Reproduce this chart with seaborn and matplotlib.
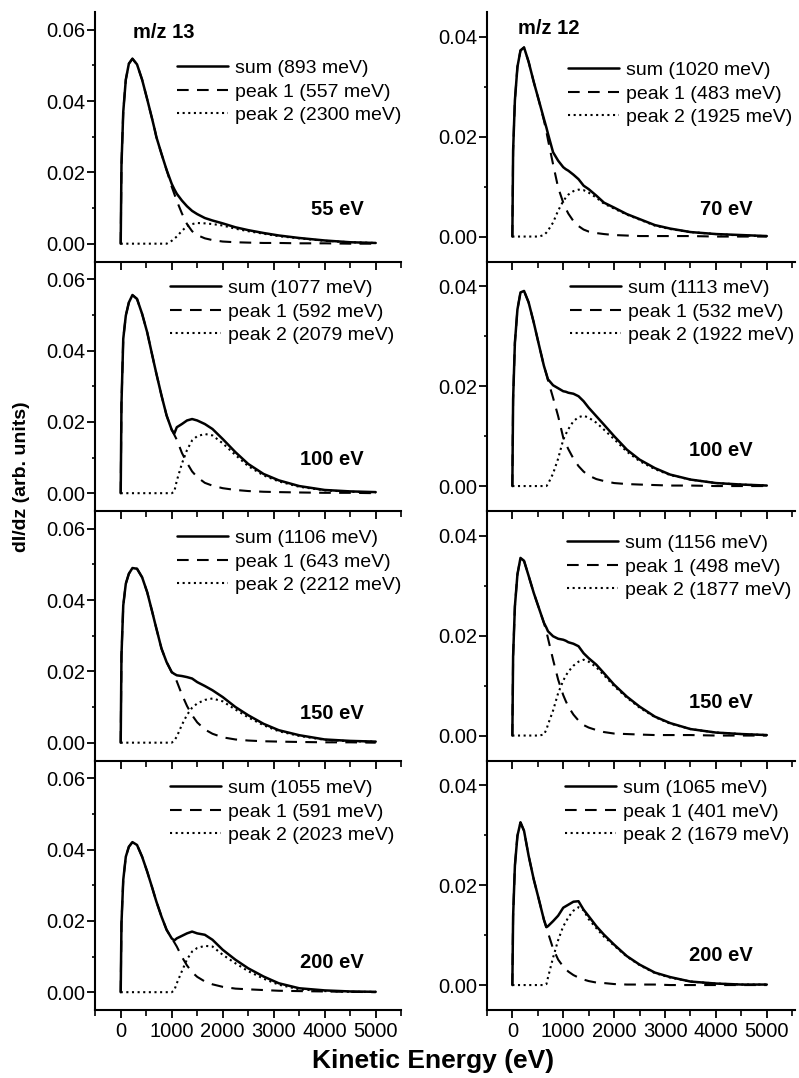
import numpy as np
import matplotlib
matplotlib.use("Agg")
import matplotlib.pyplot as plt
from matplotlib.ticker import MultipleLocator, FormatStrFormatter
import seaborn as sns

sns.set_style("ticks")
plt.rcParams['font.family'] = ['Liberation Sans', 'DejaVu Sans']
plt.rcParams['text.color'] = 'black'
plt.rcParams['axes.labelcolor'] = 'black'
plt.rcParams['axes.edgecolor'] = 'black'
plt.rcParams['xtick.color'] = 'black'
plt.rcParams['ytick.color'] = 'black'

# ---------------- data ----------------
energy = [0, 15, 50, 100, 160, 230, 320, 420, 520, 620, 670, 700, 800, 900, 1000, 1050,
          1100, 1200, 1300, 1400, 1500, 1650, 1800, 2000, 2250, 2500, 2800, 3100, 3500,
          4000, 4500, 5000]

# m/z 13 column
l1_sum = [0, 0.022, 0.037, 0.046, 0.0505, 0.0519, 0.0503, 0.046, 0.0405, 0.0348, 0.0318, 0.0299,
          0.0252, 0.0207, 0.0168, 0.0153, 0.014, 0.0121, 0.0105, 0.0092, 0.0083, 0.0072, 0.0065,
          0.0057, 0.0046, 0.0038, 0.003, 0.0023, 0.0016, 0.0009, 0.0004, 0.0002]
l1_p1 = [0, 0.022, 0.037, 0.046, 0.0505, 0.0519, 0.0503, 0.046, 0.0405, 0.0348, 0.0318, 0.0299,
         0.0252, 0.0207, 0.016, 0.014, 0.012, 0.0085, 0.0055, 0.0035, 0.0024, 0.0015, 0.001,
         0.0006, 0.0004, 0.0003, 0.0002, 0.0002, 0.0001, 0.0001, 0, 0]
l1_p2 = [0, 0, 0, 0, 0, 0, 0, 0, 0, 0, 0, 0, 0, 0, 0.0008, 0.0014, 0.002, 0.0036, 0.0049, 0.0055,
         0.0058, 0.0057, 0.0055, 0.0051, 0.0042, 0.0035, 0.0028, 0.0021, 0.0015, 0.0008, 0.0004,
         0.0002]

l2_sum = [0, 0.025, 0.0433, 0.0498, 0.0535, 0.0556, 0.0545, 0.0503, 0.0451, 0.0386, 0.0354,
          0.0335, 0.0274, 0.0218, 0.0178, 0.0167, 0.0185, 0.0194, 0.0204, 0.0208, 0.0204, 0.0194,
          0.018, 0.0152, 0.0115, 0.0082, 0.0054, 0.0036, 0.002, 0.0009, 0.0005, 0.0003]
l2_p1 = [0, 0.025, 0.0433, 0.0498, 0.0535, 0.0556, 0.0545, 0.0503, 0.0451, 0.0386, 0.0354,
         0.0335, 0.0274, 0.0218, 0.0178, 0.0164, 0.015, 0.0113, 0.0085, 0.0061, 0.0045, 0.0029,
         0.0021, 0.0014, 0.0009, 0.0006, 0.0004, 0.0003, 0.0002, 0.0001, 0.0001, 0]
l2_p2 = [0, 0, 0, 0, 0, 0, 0, 0, 0, 0, 0, 0, 0, 0, 0, 0.0004, 0.0035, 0.0083, 0.0121, 0.0148,
         0.016, 0.0166, 0.0162, 0.014, 0.0107, 0.0076, 0.005, 0.0033, 0.0018, 0.0008, 0.0004,
         0.0002]

l3_sum = [0, 0.0245, 0.0385, 0.0446, 0.0474, 0.049, 0.0488, 0.0464, 0.0422, 0.0366, 0.0337,
          0.032, 0.0264, 0.0226, 0.0198, 0.0193, 0.0189, 0.0187, 0.0184, 0.018, 0.017, 0.0159,
          0.0147, 0.0128, 0.01, 0.0077, 0.0053, 0.0035, 0.0021, 0.0009, 0.0005, 0.0003]
l3_p1 = [0, 0.0245, 0.0385, 0.0446, 0.0474, 0.049, 0.0488, 0.0464, 0.0422, 0.0366, 0.0337,
         0.032, 0.0264, 0.0226, 0.0198, 0.0187, 0.0172, 0.0135, 0.0103, 0.0077, 0.0057, 0.0037,
         0.0025, 0.0015, 0.0009, 0.0006, 0.0004, 0.0003, 0.0002, 0.0001, 0.0001, 0]
l3_p2 = [0, 0, 0, 0, 0, 0, 0, 0, 0, 0, 0, 0, 0, 0, 0, 0.0006, 0.0017, 0.005, 0.0078, 0.0098,
         0.011, 0.012, 0.0124, 0.0116, 0.0093, 0.0071, 0.0049, 0.0032, 0.0019, 0.0008, 0.0004,
         0.0003]

l4_sum = [0, 0.0193, 0.0315, 0.038, 0.0408, 0.0421, 0.0413, 0.038, 0.0338, 0.0292, 0.0268,
          0.0254, 0.0212, 0.0175, 0.0151, 0.0145, 0.0151, 0.0158, 0.0165, 0.017, 0.0165, 0.0161,
          0.0147, 0.0119, 0.0091, 0.0067, 0.0044, 0.0025, 0.0011, 0.0005, 0.0002, 0.0001]
l4_p1 = [0, 0.0193, 0.0315, 0.038, 0.0408, 0.0421, 0.0413, 0.038, 0.0338, 0.0292, 0.0268,
         0.0254, 0.0212, 0.0175, 0.0151, 0.014, 0.0128, 0.0099, 0.0075, 0.0056, 0.0043, 0.003,
         0.0022, 0.0015, 0.001, 0.0008, 0.0006, 0.0004, 0.0003, 0.0002, 0.0001, 0]
l4_p2 = [0, 0, 0, 0, 0, 0, 0, 0, 0, 0, 0, 0, 0, 0, 0, 0.0005, 0.0025, 0.0059, 0.0092, 0.0114,
         0.0124, 0.013, 0.0128, 0.0105, 0.0081, 0.0059, 0.0038, 0.0021, 0.0008, 0.0003, 0.0001,
         0.0001]

# m/z 12 column
r1_sum = [0, 0.0172, 0.0273, 0.034, 0.0373, 0.0379, 0.035, 0.031, 0.0273, 0.0236, 0.0218,
          0.0206, 0.0169, 0.0152, 0.0139, 0.0135, 0.0132, 0.0124, 0.0115, 0.0102, 0.0095, 0.0082,
          0.0068, 0.0058, 0.0045, 0.0035, 0.0023, 0.0016, 0.0009, 0.0005, 0.0003, 0.0001]
r1_p1 = [0, 0.0172, 0.0273, 0.034, 0.0373, 0.0379, 0.035, 0.031, 0.0273, 0.0233, 0.021, 0.0194,
         0.0145, 0.0098, 0.0068, 0.0056, 0.0046, 0.0031, 0.0021, 0.0014, 0.001, 0.0007, 0.0005,
         0.0003, 0.0002, 0.0001, 0.0001, 0.0001, 0.0001, 0, 0, 0]
r1_p2 = [0, 0, 0, 0, 0, 0, 0, 0, 0, 0.0003, 0.0008, 0.0012, 0.0028, 0.0052, 0.0071, 0.0078,
         0.0084, 0.0091, 0.0094, 0.0093, 0.0088, 0.0078, 0.0066, 0.0056, 0.0044, 0.0034, 0.0022,
         0.0015, 0.0009, 0.0005, 0.0002, 0.0001]

r2_sum = [0, 0.0174, 0.0287, 0.0354, 0.0388, 0.0391, 0.0368, 0.0328, 0.0284, 0.0241, 0.0224,
          0.0214, 0.0202, 0.0196, 0.019, 0.0189, 0.0187, 0.0185, 0.018, 0.017, 0.0157, 0.014,
          0.0123, 0.01, 0.0073, 0.0053, 0.0036, 0.0023, 0.0013, 0.0006, 0.0003, 0.0001]
r2_p1 = [0, 0.0174, 0.0287, 0.0354, 0.0388, 0.0391, 0.0368, 0.0328, 0.0284, 0.0241, 0.0224,
         0.0212, 0.0177, 0.014, 0.0097, 0.0085, 0.0074, 0.0055, 0.004, 0.0029, 0.0021, 0.0014,
         0.001, 0.0006, 0.0004, 0.0003, 0.0002, 0.0001, 0.0001, 0, 0, 0]
r2_p2 = [0, 0, 0, 0, 0, 0, 0, 0, 0, 0, 0, 0.0004, 0.0025, 0.0055, 0.0093, 0.0104, 0.0114,
         0.013, 0.0138, 0.0141, 0.0137, 0.0127, 0.0113, 0.0094, 0.0069, 0.005, 0.0034, 0.0022,
         0.0013, 0.0006, 0.0003, 0.0001]

r3_sum = [0, 0.0159, 0.0259, 0.0323, 0.0356, 0.035, 0.032, 0.0286, 0.0256, 0.0226, 0.0216,
          0.0209, 0.0199, 0.0194, 0.0192, 0.019, 0.0187, 0.0184, 0.0179, 0.0165, 0.0155, 0.0142,
          0.0125, 0.0102, 0.0078, 0.0058, 0.0038, 0.0025, 0.0013, 0.0006, 0.0003, 0.0001]
r3_p1 = [0, 0.0159, 0.0259, 0.0323, 0.0356, 0.035, 0.032, 0.0286, 0.0256, 0.0226, 0.0208,
         0.0195, 0.0152, 0.0112, 0.0081, 0.0069, 0.0058, 0.0042, 0.003, 0.0021, 0.0016, 0.0011,
         0.0007, 0.0004, 0.0003, 0.0002, 0.0001, 0.0001, 0.0001, 0, 0, 0]
r3_p2 = [0, 0, 0, 0, 0, 0, 0, 0, 0, 0.0002, 0.0012, 0.0022, 0.005, 0.0085, 0.011, 0.012, 0.0128,
         0.014, 0.0148, 0.0152, 0.0148, 0.0137, 0.0121, 0.0099, 0.0076, 0.0056, 0.0037, 0.0024,
         0.0013, 0.0006, 0.0003, 0.0001]

r4_sum = [0, 0.0138, 0.0239, 0.0299, 0.0326, 0.0309, 0.0259, 0.0212, 0.0172, 0.0131, 0.0116,
          0.0118, 0.0128, 0.0139, 0.0155, 0.0158, 0.0161, 0.0167, 0.0168, 0.0151, 0.0138, 0.0118,
          0.0101, 0.0081, 0.0058, 0.0041, 0.0025, 0.0016, 0.0007, 0.0003, 0.0001, 0.0001]
r4_p1 = [0, 0.0138, 0.0239, 0.0299, 0.0326, 0.0309, 0.0259, 0.0212, 0.0172, 0.0131, 0.0114,
         0.0105, 0.0073, 0.0051, 0.0037, 0.0032, 0.0027, 0.002, 0.0015, 0.0011, 0.0008, 0.0005,
         0.0004, 0.0002, 0.0001, 0.0001, 0.0001, 0, 0, 0, 0, 0]
r4_p2 = [0, 0, 0, 0, 0, 0, 0, 0, 0, 0, 0.0002, 0.0015, 0.0055, 0.009, 0.0118, 0.0126, 0.0136,
         0.0149, 0.0156, 0.015, 0.0132, 0.0114, 0.0097, 0.0079, 0.0057, 0.004, 0.0024, 0.0015,
         0.0007, 0.0003, 0.0001, 0.0001]

left_sum_mev = [893, 1077, 1106, 1055]
left_p1_mev = [557, 592, 643, 591]
left_p2_mev = [2300, 2079, 2212, 2023]
right_sum_mev = [1020, 1113, 1156, 1065]
right_p1_mev = [483, 532, 498, 401]
right_p2_mev = [1925, 1922, 1877, 1679]
left_energies = ["55 eV", "100 eV", "150 eV", "200 eV"]
right_energies = ["70 eV", "100 eV", "150 eV", "200 eV"]
column_titles = ["m/z 13", "m/z 12"]

left_curves = [(l1_sum, l1_p1, l1_p2), (l2_sum, l2_p1, l2_p2),
               (l3_sum, l3_p1, l3_p2), (l4_sum, l4_p1, l4_p2)]
right_curves = [(r1_sum, r1_p1, r1_p2), (r2_sum, r2_p1, r2_p2),
                (r3_sum, r3_p1, r3_p2), (r4_sum, r4_p1, r4_p2)]

# ---------------- layout ----------------
W, H = 799, 1078
fig = plt.figure(figsize=(W / 100, H / 100), dpi=100)

panel_top0 = 12.0
panel_h = 249.5
cols = [
    dict(x0=95.2, x1=401.2, xlim=(-500, 5500), ylim=(-0.005, 0.065), yticks=[0, 0.02, 0.04, 0.06],
         curves=left_curves, s=left_sum_mev, p1=left_p1_mev, p2=left_p2_mev, en=left_energies,
         leg_x=[177, 170, 177, 170], leg_y=[68, 288, 538, 788], en_x=4760,
         en_y=[0.0096, 0.0095, 0.0081, 0.0084], title_xy=(240, 0.0592)),
    dict(x0=486.9, x1=794.8, xlim=(-500, 5550), ylim=(-0.005, 0.045), yticks=[0, 0.02, 0.04],
         curves=right_curves, s=right_sum_mev, p1=right_p1_mev, p2=right_p2_mev, en=right_energies,
         leg_x=[568, 570, 567, 565], leg_y=[70, 288, 543, 788], en_x=4715,
         en_y=[0.0055, 0.0071, 0.0066, 0.0059], title_xy=(112, 0.0417)),
]

fs_tick = 14.5
fs_leg = 14
for ci, c in enumerate(cols):
    for k in range(4):
        top = panel_top0 + k * panel_h
        ax = fig.add_axes([c["x0"] / W, 1 - (top + panel_h) / H, (c["x1"] - c["x0"]) / W, panel_h / H])
        ax.patch.set_alpha(0)
        s, p1, p2 = c["curves"][k]
        sns.lineplot(x=energy, y=p1, ax=ax, color="black", lw=1.5,
                     linestyle=(0, (5.6, 4.0)), label=f"peak 1 ({c['p1'][k]} meV)", zorder=2)
        sns.lineplot(x=energy, y=p2, ax=ax, color="black", lw=1.5,
                     linestyle=(0, (1.0, 1.7)), label=f"peak 2 ({c['p2'][k]} meV)", zorder=2)
        sns.lineplot(x=energy, y=s, ax=ax, color="black", lw=1.8,
                     linestyle="-", label=f"sum ({c['s'][k]} meV)", zorder=3)
        ax.set_xlim(*c["xlim"])
        ax.set_ylim(*c["ylim"])
        ax.set_xlabel("")
        ax.set_ylabel("")
        ax.set_yticks(c["yticks"])
        ax.yaxis.set_major_formatter(FormatStrFormatter("%.2f"))
        ax.yaxis.set_minor_locator(MultipleLocator(0.01))
        ax.xaxis.set_major_locator(MultipleLocator(1000))
        ax.xaxis.set_minor_locator(MultipleLocator(500))
        for side in ["top", "right"]:
            ax.spines[side].set_visible(False)
        for side in ["left", "bottom"]:
            ax.spines[side].set_linewidth(1.5)
        ax.tick_params(axis="both", which="major", direction="out", length=5.5, width=1.3,
                       labelsize=fs_tick, pad=1.5, color="black", labelcolor="black")
        ax.tick_params(axis="y", which="minor", direction="out", length=2.5, width=1.2)
        ax.tick_params(axis="x", which="minor", direction="out", length=4.0, width=1.2)
        ax.tick_params(axis="x", which="major", pad=3)
        if k < 3:
            ax.tick_params(axis="x", labelbottom=False)

        handles, labels = ax.get_legend_handles_labels()
        order = [2, 0, 1]
        ly = c["leg_y"][k] - 8.5
        ax.legend([handles[i] for i in order], [labels[i] for i in order],
                  loc="upper left", bbox_to_anchor=(c["leg_x"][k] / W, 1 - ly / H),
                  bbox_transform=fig.transFigure, frameon=False, borderpad=0, borderaxespad=0,
                  handlelength=2.6, handletextpad=0.4, labelspacing=0.3, fontsize=fs_leg)

        ax.text(c["en_x"], c["en_y"][k], c["en"][k], ha="right", va="center",
                fontsize=14.5, fontweight="bold", color="black")
        if k == 0:
            ax.text(c["title_xy"][0], c["title_xy"][1], column_titles[ci], ha="left", va="center",
                    fontsize=14.5, fontweight="bold", color="black")

fig.text(22 / W, 1 - 477 / H, "dI/dz (arb. units)", rotation=90, ha="center", va="center",
         fontsize=14, fontweight="bold", color="black")
fig.text(433 / W, 1 - 1061 / H, "Kinetic Energy (eV)", ha="center", va="center",
         fontsize=19, fontweight="bold", color="black")

fig.savefig("out.png", dpi=100)
